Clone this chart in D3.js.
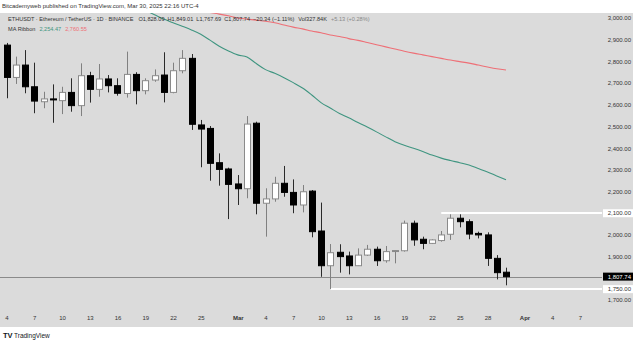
<!DOCTYPE html>
<html><head><meta charset="utf-8">
<script src="https://cdn.jsdelivr.net/npm/d3@7"></script>
<style>body{margin:0;background:#fff}svg{display:block}text{font-family:"Liberation Sans",Arial,sans-serif}</style>
</head><body><svg id="c" width="640" height="344"></svg>
<script>
const dates = ["2025-02-04","2025-02-05","2025-02-06","2025-02-07","2025-02-08","2025-02-09","2025-02-10","2025-02-11","2025-02-12","2025-02-13",
"2025-02-14","2025-02-15","2025-02-16","2025-02-17","2025-02-18","2025-02-19","2025-02-20","2025-02-21","2025-02-22","2025-02-23",
"2025-02-24","2025-02-25","2025-02-26","2025-02-27","2025-02-28","2025-03-01","2025-03-02","2025-03-03","2025-03-04","2025-03-05",
"2025-03-06","2025-03-07","2025-03-08","2025-03-09","2025-03-10","2025-03-11","2025-03-12","2025-03-13","2025-03-14","2025-03-15",
"2025-03-16","2025-03-17","2025-03-18","2025-03-19","2025-03-20","2025-03-21","2025-03-22","2025-03-23","2025-03-24","2025-03-25",
"2025-03-26","2025-03-27","2025-03-28","2025-03-29","2025-03-30"];
const opens  = [2875,2726,2783,2683,2614,2627,2619,2657,2596,2734, 2671,2719,2688,2652,2740,2665,2714,2737,2657,2757,
 2814,2507,2491,2333,2304,2235,2213,2515,2146,2166, 2238,2196,2138,2202,2018,1858,1920,1903,1858,1907,
 1934,1881,1925,1927,2054,1980,1961,1974,2003,2077, 2061,2007,2000,1892,1828.09];
const highs  = [2885,2822,2852,2794,2660,2694,2683,2722,2791,2752, 2788,2737,2722,2845,2750,2722,2763,2842,2794,2852,
 2834,2530,2502,2376,2310,2276,2548,2522,2215,2268, 2318,2256,2230,2207,2149,1958,1957,1923,1938,1954,
 1946,1949,1930,2066,2066,1992,1980,2018,2095,2095, 2072,2015,2012,1907,1849.01];
const lows   = [2630,2696,2653,2561,2584,2517,2557,2568,2548,2610, 2637,2657,2642,2633,2602,2648,2706,2611,2653,2745,
 2484,2312,2250,2227,2073,2138,2169,2095,1992,2153, 2176,2100,2104,1989,1807,1750,1826,1818,1857,1903,
 1857,1872,1869,1923,1950,1934,1958,1969,1977,2035, 1980,1984,1857,1795,1767.69];
const closes = [2726,2783,2683,2617,2627,2624,2657,2596,2734,2671, 2719,2688,2653,2740,2665,2711,2734,2657,2757,2814,
 2510,2488,2330,2302,2233,2213,2511,2146,2166,2238, 2196,2138,2199,2015,1858,1918,1900,1858,1907,1934,
 1881,1923,1928,2054,1977,1961,1977,2000,2077,2061, 2004,2000,1892,1826,1807.74];
const maFast = [null,null,null,null,null,null,null,null,null,null, null,null,null,null,null,3035,3015,2995,2978,2962,
 2945,2925,2898,2870,2848,2830,2820,2790,2762,2745, 2725,2702,2677,2645,2610,2585,2560,2540,2518,2497,
 2475,2452,2430,2413,2400,2385,2368,2354,2343,2333, 2322,2306,2290,2272,2254.47];
const maSlow = [null,null,null,null,null,null,null,null,null,null, null,null,null,null,null,null,null,null,null,null,
 3040,3032,3025,3018,3010,3000,2995,2990,2985,2978, 2968,2958,2950,2940,2932,2922,2915,2905,2897,2887,
 2877,2867,2857,2847,2838,2830,2822,2814,2806,2799, 2792,2783,2774,2766,2760.55];
const priceTicks = [3000,2900,2800,2700,2600,2500,2400,2300,2200,2100,2000,1900,1700];
const timeTickDates = ["2025-02-04","2025-02-07","2025-02-10","2025-02-13","2025-02-16","2025-02-19","2025-02-22","2025-02-25","2025-03-01",
 "2025-03-04","2025-03-07","2025-03-10","2025-03-13","2025-03-16","2025-03-19","2025-03-22","2025-03-25","2025-03-28","2025-04-01","2025-04-04","2025-04-07"];
const timeTickLabels = ["4","7","10","13","16","19","22","25","Mar","4","7","10","13","16","19","22","25","28","Apr","4","7"];
const levelValues = [2100, 1750];
const levelStarts = ["2025-03-23","2025-03-11"];
const lastPrice = 1807.74;

const svg = d3.select("#c");
const x = d3.scaleUtc().domain([new Date("2025-02-04"), new Date("2025-04-07")]).range([6.5, 580]);
const y = d3.scaleLinear().domain([1700, 3000]).range([300, 18]);
const fmt = d3.format(",.2f");
const FS = 6;

// header
svg.append("text").attr("x",2).attr("y",8).attr("font-size",FS).attr("fill","#333")
  .text("Bitcademyweb published on TradingView.com, Mar 30, 2025 22:16 UTC-4");
// panel
svg.append("rect").attr("x",0).attr("y",13).attr("width",633).attr("height",314).attr("fill","#dbdbdb");

svg.append("defs").append("clipPath").attr("id","pc").append("rect")
  .attr("x",0).attr("y",13).attr("width",602).attr("height",314);
const plot = svg.append("g").attr("clip-path","url(#pc)");

// last price line
plot.append("line").attr("x1",0).attr("x2",602).attr("y1",Math.round(y(lastPrice))+0.5).attr("y2",Math.round(y(lastPrice))+0.5)
  .attr("stroke","#8a8a8a").attr("stroke-width",1);

// MA lines
const rows = dates.map((d,i)=>({date:new Date(d), o:opens[i], h:highs[i], l:lows[i], c:closes[i], f:maFast[i], s:maSlow[i]}));
const lineF = d3.line().defined(d=>d.f!=null).x(d=>x(d.date)).y(d=>y(d.f)).curve(d3.curveMonotoneX);
const lineS = d3.line().defined(d=>d.s!=null).x(d=>x(d.date)).y(d=>y(d.s)).curve(d3.curveMonotoneX);
plot.append("path").attr("d",lineS(rows)).attr("fill","none").attr("stroke","#ee6f76").attr("stroke-width",1.1);
plot.append("path").attr("d",lineF(rows)).attr("fill","none").attr("stroke","#3f9580").attr("stroke-width",1.1);

// level lines
levelValues.forEach((v,i)=>{
  const yy = Math.round(y(v));
  plot.append("line").attr("x1",x(new Date(levelStarts[i]))).attr("x2",602).attr("y1",yy).attr("y2",yy)
    .attr("stroke","#ffffff").attr("stroke-width",2);
});

// candles
const cg = plot.append("g");
rows.forEach(d=>{
  const xs = Math.round(x(d.date));
  const up = d.c >= d.o;
  const wick = up ? "#808080" : "#2a2a2a";
  cg.append("line").attr("x1",xs+0.5).attr("x2",xs+0.5).attr("y1",y(d.h)).attr("y2",y(d.l)).attr("stroke",wick).attr("stroke-width",1);
  const top = y(Math.max(d.o,d.c)), bot = y(Math.min(d.o,d.c));
  cg.append("rect").attr("x",xs-3+0.5).attr("y",top).attr("width",6).attr("height",Math.max(1,bot-top))
    .attr("fill", up ? "#ffffff" : "#000000").attr("stroke", up ? "#8a8a8a" : "#000000").attr("stroke-width",1);
});

// y axis
const ya = svg.append("g").attr("transform","translate(631,0)")
  .call(d3.axisLeft(y).tickValues(priceTicks).tickSize(0).tickPadding(0).tickFormat(fmt));
ya.select(".domain").remove();
ya.selectAll("text").attr("font-size",FS).attr("fill","#333").attr("font-family","Liberation Sans, Arial, sans-serif");

// boxed labels
function boxLabel(v, bg, fg){
  const yy = y(v);
  svg.append("rect").attr("x",603).attr("y",yy-4).attr("width",30).attr("height",8).attr("fill",bg);
  svg.append("text").attr("x",631).attr("y",yy).attr("dy","0.35em").attr("text-anchor","end")
    .attr("font-size",FS).attr("fill",fg).text(fmt(v));
}
levelValues.forEach(v=>boxLabel(v,"#ffffff","#333"));
boxLabel(lastPrice,"#000000","#ffffff");

// x axis
const xa = svg.append("g").attr("transform","translate(0,316)")
  .call(d3.axisBottom(x).tickValues(timeTickDates.map(d=>new Date(d))).tickSize(0).tickPadding(0)
    .tickFormat((d,i)=>timeTickLabels[i]));
xa.select(".domain").remove();
xa.selectAll("text").attr("font-size",FS).attr("fill","#333").attr("font-family","Liberation Sans, Arial, sans-serif")
  .attr("font-weight",(d,i)=> (timeTickLabels[i]==="Mar"||timeTickLabels[i]==="Apr") ? "bold" : "normal");

// legend (flowing text)
const LFS = 5.6;
const l1 = svg.append("text").attr("x",8).attr("y",21).attr("font-size",LFS).attr("fill","#333");
l1.append("tspan").text("ETHUSDT · Ethereum / TetherUS · 1D · BINANCE");
[["O1,828.09",5],["H1,849.01",3],["L1,767.69",3],["C1,807.74",3],["\u221220.34 (\u22121.11%)",3],["Vol327.84K",4]]
  .forEach(p=>l1.append("tspan").attr("dx",p[1]).text(p[0]));
l1.append("tspan").attr("dx",4).attr("fill","#888").text("+5.13 (+0.28%)");
const l2 = svg.append("text").attr("x",8).attr("y",31).attr("font-size",LFS).attr("fill","#333");
l2.append("tspan").text("MA Ribbon");
l2.append("tspan").attr("dx",4).attr("fill","#3f9580").text(fmt(maFast[maFast.length-1]));
l2.append("tspan").attr("dx",4).attr("fill","#ee6f76").text(fmt(maSlow[maSlow.length-1]));

// footer logo
const ft = svg.append("g");
ft.append("text").attr("x",3).attr("y",338).attr("font-size",7.5).attr("font-weight","bold").attr("fill","#131722").text("TV");
ft.append("text").attr("x",14).attr("y",338).attr("font-size",6.5).attr("fill","#131722").text("TradingView");
</script></body></html>
